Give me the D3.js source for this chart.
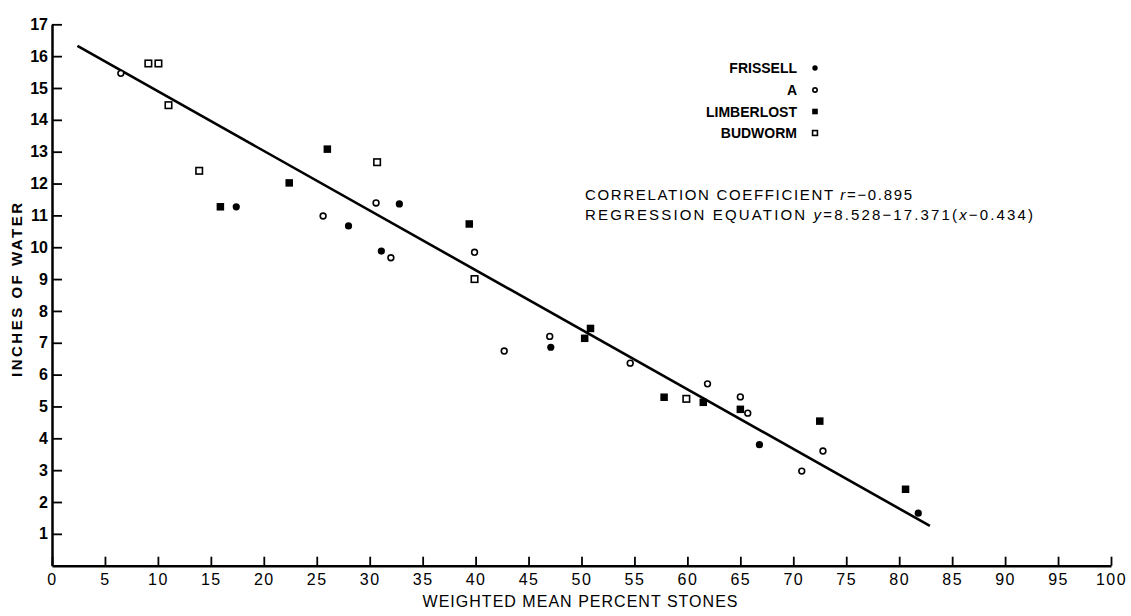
<!DOCTYPE html>
<html>
<head>
<meta charset="utf-8">
<script src="https://cdn.jsdelivr.net/npm/d3@7/dist/d3.min.js"></script>
<style>
  body { margin: 0; background: #fff; }
  svg { display: block; font-family: "Liberation Sans", Arial, Helvetica, sans-serif; }
</style>
</head>
<body>
<div id="chart"></div>
<script>
// stones vs water scatter, four plots + fitted line

var seriesNames = ["FRISSELL", "A", "LIMBERLOST", "BUDWORM"];

// [percent stones, inches of water]
var frissell = [[17.4, 11.27], [28.0, 10.67], [32.8, 11.36], [31.1, 9.88], [47.1, 6.86], [66.8, 3.80], [81.8, 1.65]];
var plotA = [[6.5, 15.46], [25.6, 10.98], [30.6, 11.39], [32.0, 9.67], [39.9, 9.84], [42.7, 6.74], [47.0, 7.20],
             [54.6, 6.36], [61.9, 5.71], [65.0, 5.30], [65.7, 4.79], [70.8, 2.97], [72.8, 3.60]];
var limberlost = [[15.9, 11.27], [22.4, 12.02], [26.0, 13.08], [39.4, 10.73], [50.3, 7.14], [50.85, 7.45],
                  [57.8, 5.29], [61.5, 5.13], [65.0, 4.91], [72.5, 4.54], [80.6, 2.40]];
var budworm = [[9.1, 15.77], [10.05, 15.77], [11.0, 14.46], [13.9, 12.40], [30.7, 12.67], [39.9, 9.00], [59.9, 5.24]];

// regression line end points as drawn
var regX = [2.4, 82.9];
var regY = [16.32, 1.25];

var xTicks = d3.range(0, 101, 5);
var yTicks = d3.range(1, 18, 1);

var W = 1131, H = 616;

var svg = d3.select("#chart").append("svg")
  .attr("width", W).attr("height", H);

var x = d3.scaleLinear().domain([0, 100]).range([52, 1111]);
var y = d3.scaleLinear().domain([0, 17]).range([565.7, 24.3]);

// axes
var xAxis = d3.axisBottom(x).tickValues(xTicks).tickSizeInner(-9).tickSizeOuter(0).tickPadding(8);
var gx = svg.append("g").attr("transform", "translate(0," + y(0) + ")").call(xAxis);
gx.select(".domain").attr("stroke-width", 2.5);
gx.selectAll(".tick line").attr("stroke-width", 1.8);
gx.selectAll(".tick text")
  .attr("font-size", 16).attr("fill", "#000")
  .style("letter-spacing", "1.5px")
  .attr("font-family", "Liberation Sans, Arial, sans-serif");

var yAxis = d3.axisLeft(y).tickValues(yTicks).tickSizeInner(-10).tickSizeOuter(0).tickPadding(4);
var gy = svg.append("g").attr("transform", "translate(" + x(0) + ",0)").call(yAxis);
gy.select(".domain").attr("stroke-width", 2.5);
gy.selectAll(".tick line").attr("stroke-width", 1.8);
gy.selectAll(".tick text")
  .attr("font-size", 16).attr("font-weight", "bold").attr("fill", "#000")
  .attr("font-family", "Liberation Sans, Arial, sans-serif");

// axis titles
svg.append("text")
  .attr("x", 580).attr("y", 607)
  .attr("text-anchor", "middle")
  .attr("font-size", 16)
  .attr("textLength", 315).attr("lengthAdjust", "spacing")
  .text("WEIGHTED MEAN PERCENT STONES");

svg.append("text")
  .attr("transform", "translate(22,290) rotate(-90)")
  .attr("text-anchor", "middle")
  .attr("font-size", 15).attr("font-weight", "bold")
  .attr("textLength", 174).attr("lengthAdjust", "spacing")
  .text("INCHES OF WATER");

// regression line
var line = d3.line().x(function (d) { return x(d[0]); }).y(function (d) { return y(d[1]); });
svg.append("path")
  .datum(d3.zip(regX, regY))
  .attr("d", line)
  .attr("fill", "none").attr("stroke", "#000").attr("stroke-width", 2.6);

// markers
function drawMarker(g, kind, px, py, scale) {
  scale = scale || 1;
  if (kind === 0) {
    g.append("circle").attr("cx", px).attr("cy", py).attr("r", 3.6 * scale).attr("fill", "#000");
  } else if (kind === 1) {
    g.append("circle").attr("cx", px).attr("cy", py).attr("r", 2.9 * scale)
      .attr("fill", "#fff").attr("stroke", "#000").attr("stroke-width", 1.6);
  } else if (kind === 2) {
    var s = 7.5 * scale;
    g.append("rect").attr("x", px - s / 2).attr("y", py - s / 2).attr("width", s).attr("height", s).attr("fill", "#000");
  } else {
    var t = 6.5 * scale;
    g.append("rect").attr("x", px - t / 2).attr("y", py - t / 2).attr("width", t).attr("height", t)
      .attr("fill", "#fff").attr("stroke", "#000").attr("stroke-width", 1.6);
  }
}

var allSeries = [frissell, plotA, limberlost, budworm];
var pts = svg.append("g").attr("class", "points");
allSeries.forEach(function (data, k) {
  data.forEach(function (d) {
    drawMarker(pts, k, x(d[0]), y(d[1]));
  });
});

// legend
var leg = svg.append("g").attr("class", "legend");
var legY = [73, 95, 116.5, 138];
seriesNames.forEach(function (name, k) {
  leg.append("text")
    .attr("x", 797).attr("y", legY[k])
    .attr("text-anchor", "end")
    .attr("font-size", 14).attr("font-weight", "bold")
    .text(name);
  drawMarker(leg, k, 815, legY[k] - 5, 0.75);
});

// stats text
var t1 = svg.append("text").attr("x", 585).attr("y", 200).attr("font-size", 15)
  .attr("textLength", 327).attr("lengthAdjust", "spacing");
t1.append("tspan").text("CORRELATION COEFFICIENT ");
t1.append("tspan").attr("font-style", "italic").text("r");
t1.append("tspan").text("=\u22120.895");

var t2 = svg.append("text").attr("x", 585).attr("y", 220).attr("font-size", 15)
  .attr("textLength", 448).attr("lengthAdjust", "spacing");
t2.append("tspan").text("REGRESSION EQUATION ");
t2.append("tspan").attr("font-style", "italic").text("y");
t2.append("tspan").text("=8.528\u221217.371(");
t2.append("tspan").attr("font-style", "italic").text("x");
t2.append("tspan").text("\u22120.434)");
</script>
</body>
</html>
